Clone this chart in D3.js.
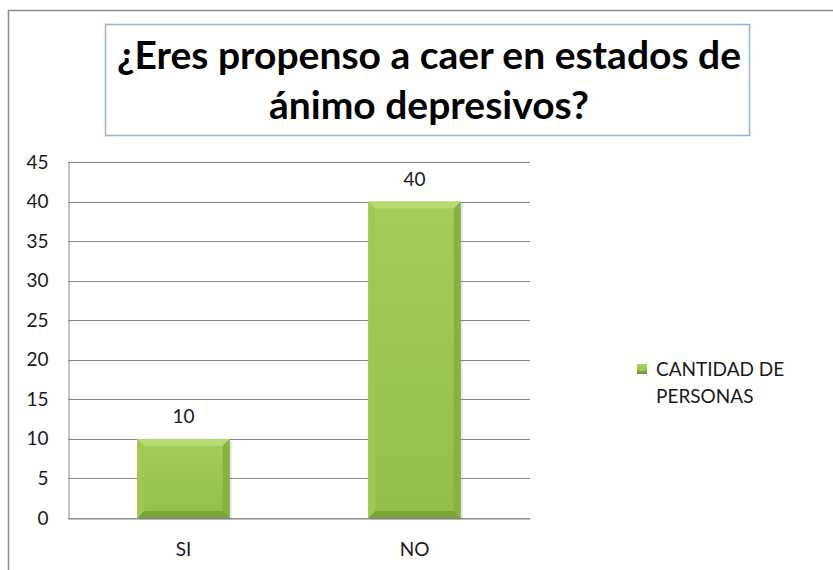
<!DOCTYPE html>
<html>
<head>
<meta charset="utf-8">
<script src="https://cdn.jsdelivr.net/npm/d3@7"></script>
<style>
  html, body { margin: 0; padding: 0; background: #fff; }
  svg { display: block; }
</style>
</head>
<body>
<div id="app"></div>
<script>
// Chart data
const titleLines = ['¿Eres propenso a caer en estados de', 'ánimo depresivos?'];
const categories = ['SI', 'NO'];
const values = [10, 40];
const yTicks = [0, 5, 10, 15, 20, 25, 30, 35, 40, 45];
const seriesLabel = ['CANTIDAD DE', 'PERSONAS'];

const font = 'Lato, Calibri, "Open Sans", sans-serif';

/**
 * Setup the SVG
 */
const initSVG = () => {
  return d3.select('#app')
    .append('svg')
    .attr('id', 'canvas')
    .attr('width', 833)
    .attr('height', 570);
};

/**
 * Gradients for the beveled bars
 */
const addDefs = (svg) => {
  const defs = svg.append('defs');

  const face = defs.append('linearGradient')
    .attr('id', 'face').attr('x1', 0).attr('y1', 0).attr('x2', 0).attr('y2', 1);
  face.append('stop').attr('offset', '0%').attr('stop-color', '#a4ce58');
  face.append('stop').attr('offset', '100%').attr('stop-color', '#93be4a');

  const mark = defs.append('linearGradient')
    .attr('id', 'mark').attr('x1', 0).attr('y1', 0).attr('x2', 0).attr('y2', 1);
  mark.append('stop').attr('offset', '0%').attr('stop-color', '#b3d96b');
  mark.append('stop').attr('offset', '100%').attr('stop-color', '#6f9530');
};

/**
 * Draw one bar with a bevelled edge
 */
const drawBar = (g, x, y, w, h, b) => {
  const bv = Math.min(b, h / 2, w / 2);
  g.append('rect')
    .attr('x', x + 2).attr('y', y + 2).attr('width', w).attr('height', h)
    .attr('fill', '#000').attr('opacity', 0.1);
  g.append('rect')
    .attr('x', x).attr('y', y).attr('width', w).attr('height', h)
    .attr('fill', 'url(#face)');
  const x2 = x + w;
  const y2 = y + h;
  const faces = [
    { pts: [[x, y], [x2, y], [x2 - bv, y + bv], [x + bv, y + bv]], fill: '#b6da74' },
    { pts: [[x, y], [x + bv, y + bv], [x + bv, y2 - bv], [x, y2]], fill: '#9fc853' },
    { pts: [[x2, y], [x2, y2], [x2 - bv, y2 - bv], [x2 - bv, y + bv]], fill: '#88b140' },
    { pts: [[x, y2], [x + bv, y2 - bv], [x2 - bv, y2 - bv], [x2, y2]], fill: '#7ea23a' }
  ];
  g.selectAll(null)
    .data(faces)
    .enter()
    .append('polygon')
    .attr('points', (d) => d.pts.map((p) => p.join(',')).join(' '))
    .attr('fill', (d) => d.fill);
};

const drawChart = (svg) => {
  // outer chart frame
  svg.append('rect')
    .attr('x', 8.5).attr('y', 10.5).attr('width', 900).attr('height', 700)
    .attr('fill', '#fff').attr('stroke', '#8c8c8c').attr('stroke-width', 1.5);

  // title box
  svg.append('rect')
    .attr('x', 105.5).attr('y', 24.5).attr('width', 644).attr('height', 111)
    .attr('fill', '#fff').attr('stroke', '#95b3d7').attr('stroke-width', 1.5);

  const title = svg.append('g').attr('class', 'title');
  const lines = title.selectAll('text')
    .data(titleLines)
    .enter()
    .append('text')
    .attr('x', 429)
    .attr('y', (d, i) => 69 + i * 50)
    .attr('text-anchor', 'middle')
    .attr('font-family', font)
    .attr('font-weight', 'bold')
    .attr('font-size', 36)
    .attr('fill', '#000')
    .text((d) => d);
  // fit the first line to its width in the picture
  const w0 = lines.node().getComputedTextLength();
  const fs = 36 * 624 / w0;
  lines.attr('font-size', fs.toFixed(2));

  const y = d3.scaleLinear().domain([0, 45]).range([518, 162]);
  const x = d3.scaleBand()
    .domain(categories)
    .range([68, 530])
    .paddingInner(0.6)
    .paddingOuter(0.3);

  // grid lines
  svg.append('g')
    .selectAll('line')
    .data(yTicks)
    .enter()
    .append('line')
    .attr('x1', 68).attr('x2', 530)
    .attr('y1', (d) => Math.round(y(d)) + 0.5)
    .attr('y2', (d) => Math.round(y(d)) + 0.5)
    .attr('stroke', '#8a8a8a')
    .attr('stroke-width', 1);

  // value axis
  const yAxis = svg.append('g')
    .attr('transform', 'translate(68.5,0)')
    .call(d3.axisLeft(y).tickValues(yTicks).tickSize(0).tickPadding(20));
  yAxis.select('.domain').attr('stroke', '#8a8a8a');
  yAxis.selectAll('text')
    .attr('font-family', font)
    .attr('font-size', 19)
    .attr('fill', '#1a1a1a');

  // bars
  const bars = svg.append('g').attr('class', 'bars');
  categories.forEach((c, i) => {
    drawBar(bars, x(c), y(values[i]), x.bandwidth(), y(0) - y(values[i]), 7);
  });

  // data labels
  svg.append('g')
    .selectAll('text')
    .data(values)
    .enter()
    .append('text')
    .attr('x', (d, i) => x(categories[i]) + x.bandwidth() / 2)
    .attr('y', (d) => y(d) - 16)
    .attr('text-anchor', 'middle')
    .attr('font-family', font)
    .attr('font-size', 19)
    .attr('fill', '#1a1a1a')
    .text((d) => d);

  // category axis
  const xAxis = svg.append('g')
    .attr('transform', 'translate(0,518.5)')
    .call(d3.axisBottom(x).tickSize(0).tickPadding(24));
  xAxis.select('.domain').attr('stroke', '#8a8a8a');
  xAxis.selectAll('text')
    .attr('font-family', font)
    .attr('font-size', 19)
    .attr('fill', '#1a1a1a');

  // legend
  const legend = svg.append('g').attr('class', 'legend');
  legend.append('rect')
    .attr('x', 637).attr('y', 364).attr('width', 10).attr('height', 10)
    .attr('fill', 'url(#mark)');
  legend.append('rect')
    .attr('x', 639).attr('y', 366).attr('width', 6).attr('height', 5)
    .attr('fill', '#a4cd58');
  legend.selectAll('text')
    .data(seriesLabel)
    .enter()
    .append('text')
    .attr('x', 656)
    .attr('y', (d, i) => 376 + i * 27)
    .attr('font-family', font)
    .attr('font-size', 19)
    .attr('fill', '#1a1a1a')
    .text((d) => d);
};

const bootstrap = () => {
  const svg = initSVG();
  addDefs(svg);
  drawChart(svg);
};

if (document.readyState != 'loading') {
  bootstrap();
} else {
  document.addEventListener('DOMContentLoaded', () => {
    bootstrap();
  });
}
</script>
</body>
</html>
